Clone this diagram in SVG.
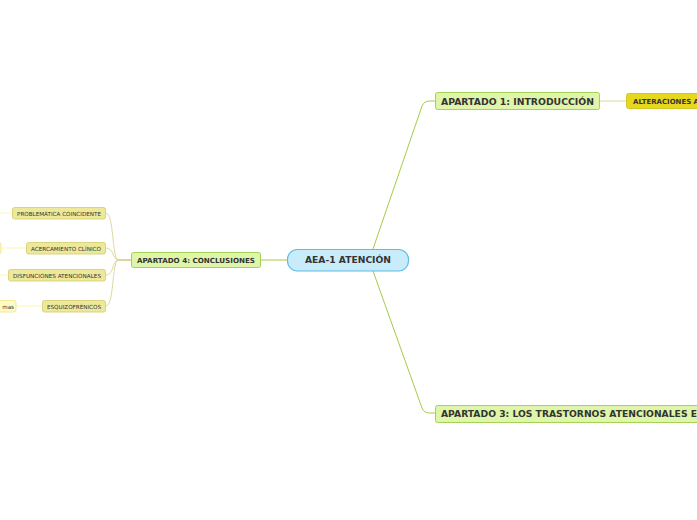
<svg xmlns="http://www.w3.org/2000/svg" width="697" height="520" viewBox="0 0 697 520">
<style>
text{font-family:"DejaVu Sans","Verdana",sans-serif;fill:#333;}
.b{font-weight:bold;}
.main{fill:#dff5a9;stroke:#a3d257;stroke-width:1;}
.sub{fill:#ede89a;stroke:#d2cb6a;stroke-width:0.8;}
.leaf{fill:#fffbc6;stroke:#f0e58a;stroke-width:0.8;}
.c1{fill:none;stroke:#a3cc45;stroke-width:1;}
.c2{fill:none;stroke:#ddd9a0;stroke-width:1;}
.c3{fill:none;stroke:#fdf7b0;stroke-width:1;}
</style>
<rect width="697" height="520" fill="#ffffff"/>
<g id="connectors">
<path class="c1" d="M373,249 L422,106 Q424,101 430,101 L435,101"/>
<path class="c1" d="M373,271 L422,408 Q424,413 430,413 L435,413"/>
<path class="c1" d="M261,260 L287,260"/>
<path class="c2" d="M600,101 L626,101"/>
<path fill="none" stroke="#b5ac3c" stroke-width="1" d="M118,260 L131,260"/>
<path class="c2" d="M118,260 C112,258 114,214 106,213"/>
<path class="c2" d="M118,260 C112,259 114,248 106,248"/>
<path class="c2" d="M118,260 C112,261 114,275 106,275"/>
<path class="c2" d="M118,260 C112,262 114,306 106,306"/>
<path class="c3" d="M12,213 L0,213"/>
<path class="c3" d="M26,248 L1,248"/>
<path class="c3" d="M8,275 L0,275"/>
<path class="c3" d="M42,306 L16,306"/>
</g>
<g id="center">
<rect x="287.5" y="249.5" width="121" height="21.5" rx="10" fill="#c9ecfb" stroke="#5cbce6" stroke-width="1.2"/>
<text class="b" x="348" y="263.3" font-size="8.5" text-anchor="middle" textLength="86" lengthAdjust="spacingAndGlyphs">AEA-1 ATENCIÓN</text>
</g>
<g id="apartado1">
<rect class="main" x="435.5" y="92.5" width="164" height="17" rx="2"/>
<text class="b" x="441" y="104.5" font-size="9" textLength="153" lengthAdjust="spacingAndGlyphs">APARTADO 1: INTRODUCCIÓN</text>
</g>
<g id="alteraciones">
<rect x="626.5" y="93.5" width="80" height="15" rx="2" fill="#e6d81c" stroke="#cbbd10" stroke-width="0.8"/>
<text class="b" x="633" y="103.5" font-size="7" fill="#222" textLength="66" lengthAdjust="spacingAndGlyphs">ALTERACIONES A</text>
</g>
<g id="apartado3">
<rect class="main" x="435.5" y="405.5" width="280" height="17" rx="2"/>
<text class="b" x="441" y="417" font-size="9" textLength="256" lengthAdjust="spacingAndGlyphs">APARTADO 3: LOS TRASTORNOS ATENCIONALES E</text>
</g>
<g id="apartado4">
<rect class="main" x="131.5" y="252.5" width="129" height="15" rx="2"/>
<text class="b" x="137" y="262.8" font-size="7" textLength="118" lengthAdjust="spacingAndGlyphs">APARTADO 4: CONCLUSIONES</text>
</g>
<g id="problematica">
<rect class="sub" x="12.5" y="207.5" width="93" height="11.5" rx="2"/>
<text x="17" y="215.5" font-size="5.6" textLength="84" lengthAdjust="spacingAndGlyphs">PROBLEMÁTICA COINCIDENTE</text>
</g>
<g id="acercamiento">
<rect class="sub" x="26.5" y="242.5" width="79" height="11.5" rx="2"/>
<text x="31" y="250.5" font-size="5.6" textLength="70" lengthAdjust="spacingAndGlyphs">ACERCAMIENTO CLÍNICO</text>
</g>
<g id="disfunciones">
<rect class="sub" x="8.5" y="269.5" width="97" height="11.5" rx="2"/>
<text x="13" y="277.5" font-size="5.6" textLength="88" lengthAdjust="spacingAndGlyphs">DISFUNCIONES ATENCIONALES</text>
</g>
<g id="esquizofrenicos">
<rect class="sub" x="42.5" y="300.5" width="63" height="11.5" rx="2"/>
<text x="47" y="308.5" font-size="5.6" textLength="54" lengthAdjust="spacingAndGlyphs">ESQUIZOFRÉNICOS</text>
</g>
<g id="leaf-acercamiento">
<rect class="leaf" x="-20" y="242.5" width="21" height="11.5" rx="2"/>
</g>
<g id="leaf-esquizo">
<rect class="leaf" x="-20" y="300.5" width="36" height="11.5" rx="2"/>
<text x="14" y="308.5" font-size="5.6" text-anchor="end">mas</text>
</g>
</svg>
